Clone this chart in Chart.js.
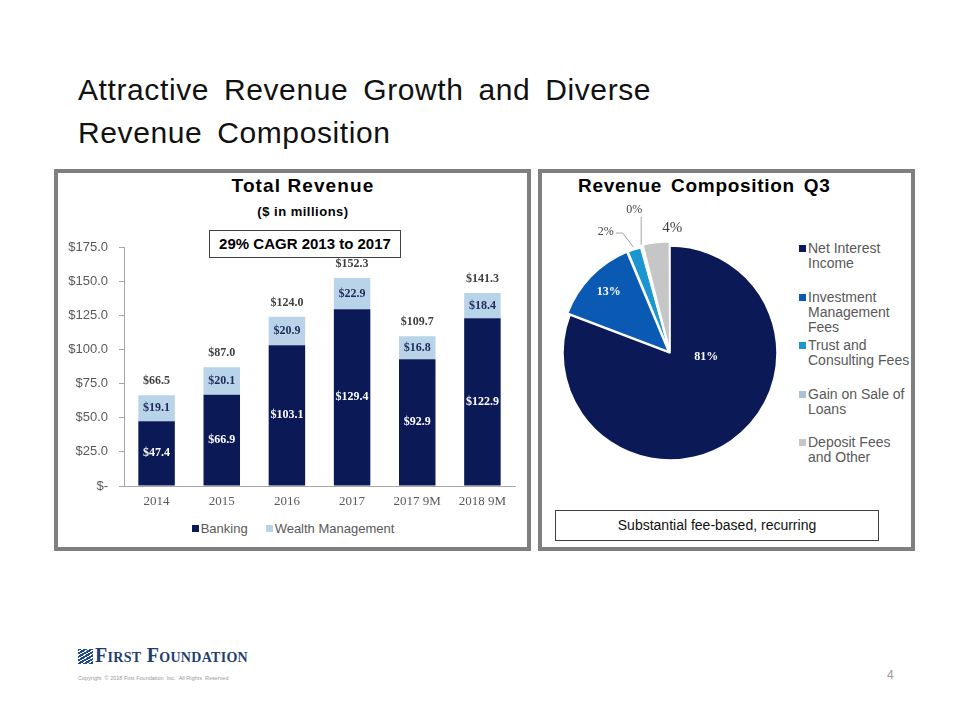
<!DOCTYPE html>
<html>
<head>
<meta charset="utf-8">
<title>Attractive Revenue Growth and Diverse Revenue Composition</title>
<script src="https://cdn.jsdelivr.net/npm/chart.js@4"></script>
<style>
  body { margin: 0; background: #fff; font-family: "Liberation Sans", Arial, sans-serif; }
  #slide { position: relative; width: 960px; height: 720px; overflow: hidden; background: #fff; }
  .abs { position: absolute; }
  #title { left: 78px; top: 68px; font-size: 30px; line-height: 43px; color: #111; letter-spacing: 0.6px; word-spacing: 6px; }
  .panel { border: 4px solid #7f7f7f; box-sizing: border-box; }
  .ptitle { font-weight: bold; font-size: 19px; color: #000; white-space: nowrap; }
  .box { border: 1px solid #404040; box-sizing: border-box; text-align: center; white-space: nowrap; }
  #barLegend { left: 60px; top: 521px; width: 466px; text-align: center; font-size: 13px; color: #595959; }
  #barLegend span.item { margin: 0 9px; }
  #barLegend i, #pieLegend i { display: inline-block; width: 7px; height: 7px; margin-right: 2px; vertical-align: 1px; }
  #pieLegend { left: 798px; top: 241px; font-size: 14px; line-height: 15px; color: #595959; }
  #pieLegend div.item { position: relative; padding-left: 10px; height: 48.5px; white-space: nowrap; }
  #pieLegend div.item i { position: absolute; left: 1px; top: 4px; }
</style>
</head>
<body>
<div id="slide">
  <div id="title" class="abs">Attractive Revenue Growth and Diverse<br>Revenue Composition</div>

  <div class="abs panel" style="left:54px; top:169px; width:477px; height:382px;"></div>
  <div class="abs ptitle" style="left:193px; top:175px; width:220px; text-align:center; letter-spacing:1.1px;">Total Revenue</div>
  <div class="abs" style="left:203px; top:204px; width:200px; text-align:center; font-weight:bold; font-size:13px; color:#000; letter-spacing:0.5px;">($ in millions)</div>
  <div class="abs box" style="left:209px; top:230px; width:192px; height:28px; line-height:26px; font-weight:bold; font-size:15px; color:#000;">29% CAGR 2013 to 2017</div>
  <canvas id="barChart" class="abs" style="left:60px; top:222px;" width="466" height="295"></canvas>
  <div id="barLegend" class="abs"></div>

  <div class="abs panel" style="left:538px; top:169px; width:377px; height:382px;"></div>
  <div class="abs ptitle" style="left:578px; top:175px; letter-spacing:0.7px; word-spacing:3px;">Revenue Composition Q3</div>
  <canvas id="pieChart" class="abs" style="left:547px; top:201px;" width="246" height="304"></canvas>
  <div id="pieLegend" class="abs"></div>
  <div class="abs box" style="left:555px; top:510px; width:324px; height:31px; line-height:29px; font-size:14px; color:#111;">Substantial fee-based, recurring</div>

  <div class="abs" style="left:78px; top:649px; width:15px; height:15px; background:repeating-linear-gradient(150deg, #1f4b86 0 2px, #fff 2px 3px);"></div>
  <div class="abs" style="left:95px; top:644px; font-family:'Liberation Serif', serif; font-weight:bold; font-size:20px; font-variant:small-caps; color:#1f3f6f; letter-spacing:0.3px;">First Foundation</div>
  <div class="abs" style="left:78px; top:675px; font-size:5.5px; color:#999;">Copyright &nbsp;© 2018 First Foundation &nbsp;Inc. &nbsp;All Rights &nbsp;Reserved</div>
  <div class="abs" style="left:887px; top:668px; font-size:12px; color:#999;">4</div>
</div>

<script>
// Total revenue ($ in millions)
const years = ['2014', '2015', '2016', '2017', '2017 9M', '2018 9M'];
const banking = [47.4, 66.9, 103.1, 129.4, 92.9, 122.9];
const wealthMgmt = [19.1, 20.1, 20.9, 22.9, 16.8, 18.4];
const totals = [66.5, 87.0, 124.0, 152.3, 109.7, 141.3];
const yTicks = [0, 25, 50, 75, 100, 125, 150, 175];

// Revenue composition Q3 (%)
const compLabels = [
  ['Net Interest', 'Income'],
  ['Investment', 'Management', 'Fees'],
  ['Trust and', 'Consulting Fees'],
  ['Gain on Sale of', 'Loans'],
  ['Deposit Fees', 'and Other']
];
const compValues = [81, 13, 2, 0.3, 4];

const NAVY = '#0c1957';
const LIGHT = '#b9d4e8';
const pieColors = [NAVY, '#0a5ab4', '#1b96d2', '#a9c4d8', '#c6c6c6'];

const money = v => '$' + v.toFixed(1);

const barLabels = {
  id: 'barLabels',
  afterDatasetsDraw(chart) {
    const ctx = chart.ctx;
    ctx.save();
    ctx.textAlign = 'center';
    ctx.textBaseline = 'middle';
    ctx.font = 'bold 12px "Liberation Serif"';
    chart.data.datasets.forEach((ds, i) => {
      chart.getDatasetMeta(i).data.forEach((bar, j) => {
        ctx.fillStyle = i === 0 ? '#ffffff' : '#1f2a5c';
        ctx.fillText(money(ds.data[j]), bar.x, (bar.y + bar.base) / 2);
      });
    });
    const tops = chart.getDatasetMeta(1).data;
    ctx.fillStyle = '#404040';
    totals.forEach((t, j) => ctx.fillText(money(t), tops[j].x, tops[j].y - 14));
    ctx.restore();
  }
};

new Chart(document.getElementById('barChart'), {
  type: 'bar',
  data: {
    labels: years,
    datasets: [
      { label: 'Banking', data: banking, backgroundColor: NAVY },
      { label: 'Wealth Management', data: wealthMgmt, backgroundColor: LIGHT }
    ]
  },
  options: {
    responsive: false,
    animation: false,
    layout: { padding: { top: 25, right: 11, bottom: 0, left: 0 } },
    datasets: { bar: { categoryPercentage: 1, barPercentage: 0.56 } },
    plugins: { legend: { display: false }, tooltip: { enabled: false } },
    scales: {
      x: {
        stacked: true,
        grid: { display: false, drawTicks: false },
        border: { color: '#a6a6a6' },
        ticks: { color: '#595959', padding: 8, font: { family: 'Liberation Serif', size: 13 } },
        afterFit(s) { s.height = 31; }
      },
      y: {
        stacked: true,
        min: 0,
        max: 175,
        afterBuildTicks(s) { s.ticks = yTicks.map(v => ({ value: v })); },
        grid: { drawOnChartArea: false, tickLength: 5, color: '#a6a6a6' },
        border: { color: '#a6a6a6' },
        ticks: {
          color: '#595959',
          padding: 11,
          font: { family: 'Liberation Sans', size: 13 },
          callback: v => v === 0 ? '$-' : money(v)
        },
        afterFit(s) { s.width = 64; }
      }
    }
  },
  plugins: [barLabels]
});

document.getElementById('barLegend').innerHTML = [['Banking', NAVY], ['Wealth Management', LIGHT]]
  .map(([t, c]) => `<span class="item"><i style="background:${c}"></i>${t}</span>`).join('');

// label placement for the pie: angle in degrees clockwise from 12 o'clock, distance as share of radius
const piePlace = [
  { angle: 96, dist: 0.34, color: '#fff', font: 'bold 12px "Liberation Serif"' },
  { angle: 315, dist: 0.81, color: '#fff', font: 'bold 12px "Liberation Serif"' },
  { angle: 332, dist: 1.28, color: '#404040', font: '12px "Liberation Serif"', line: 'side' },
  { angle: 346, dist: 1.38, color: '#404040', font: '12px "Liberation Serif"', line: 'down' },
  { angle: 1, dist: 1.17, color: '#404040', font: '15px "Liberation Serif"' }
];

const pieLabels = {
  id: 'pieLabels',
  afterDatasetsDraw(chart) {
    const ctx = chart.ctx;
    const arcs = chart.getDatasetMeta(0).data;
    const offs = chart.data.datasets[0].offset;
    ctx.save();
    ctx.textAlign = 'center';
    ctx.textBaseline = 'middle';
    arcs.forEach((arc, i) => {
      const p = piePlace[i];
      const r = arc.outerRadius;
      const a = (p.angle - 90) * Math.PI / 180;
      const x = arc.x + Math.cos(a) * r * p.dist;
      const y = arc.y + Math.sin(a) * r * p.dist;
      const text = Math.round(compValues[i]) + '%';
      ctx.font = p.font;
      ctx.fillStyle = p.color;
      ctx.fillText(text, x, y);
      if (p.line) {
        const mid = (arc.startAngle + arc.endAngle) / 2;
        const er = r + offs[i];
        const ex = arc.x + Math.cos(mid) * er;
        const ey = arc.y + Math.sin(mid) * er;
        const w = ctx.measureText(text).width;
        ctx.strokeStyle = '#a6a6a6';
        ctx.lineWidth = 1;
        ctx.beginPath();
        if (p.line === 'side') {
          ctx.moveTo(x + w / 2 + 2, y + 1);
          ctx.lineTo(x + w / 2 + 9, y + 1);
        } else {
          ctx.moveTo(ex, y + 7);
        }
        ctx.lineTo(ex, ey);
        ctx.stroke();
      }
    });
    ctx.restore();
  }
};

new Chart(document.getElementById('pieChart'), {
  type: 'pie',
  data: {
    labels: compLabels,
    datasets: [{
      data: compValues,
      backgroundColor: pieColors,
      borderColor: '#ffffff',
      borderWidth: 1.5,
      offset: [0, 9, 5, 5, 10],
      radius: 107
    }]
  },
  options: {
    responsive: false,
    animation: false,
    layout: { padding: 0 },
    plugins: { legend: { display: false }, tooltip: { enabled: false } }
  },
  plugins: [pieLabels]
});

document.getElementById('pieLegend').innerHTML = compLabels
  .map((lines, i) => `<div class="item"><i style="background:${pieColors[i]}"></i>${lines.join('<br>')}</div>`).join('');
</script>
</body>
</html>
